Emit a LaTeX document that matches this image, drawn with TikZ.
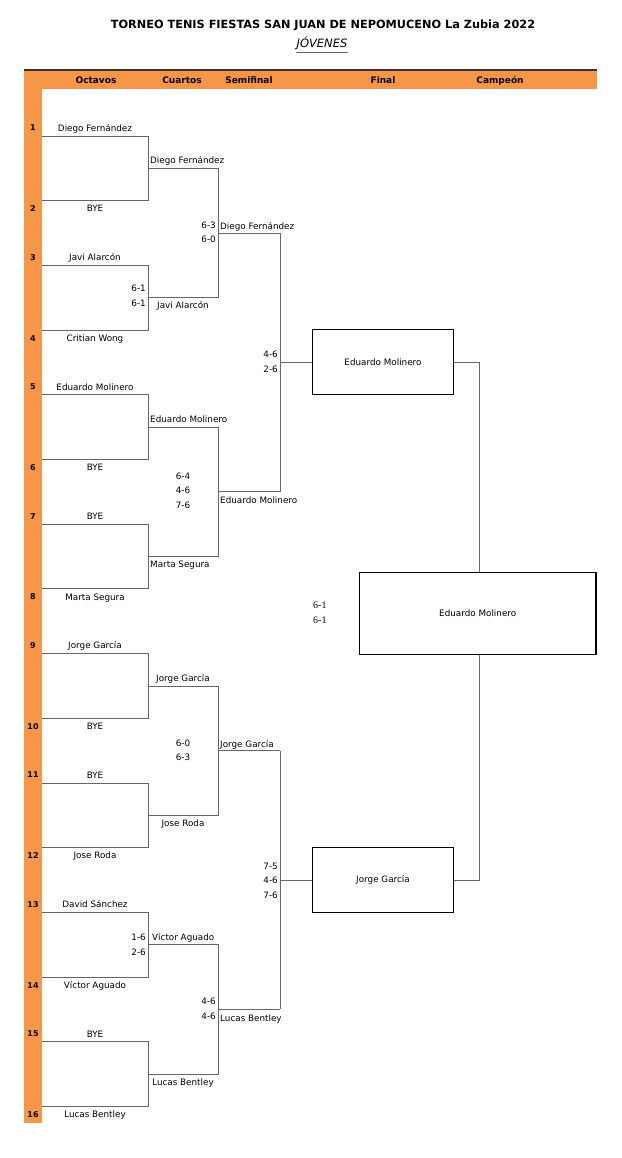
\documentclass[tikz,border=0pt]{standalone}
\usepackage{fontspec}
\setmainfont{DejaVu Sans}
\newfontfamily\scoreserif{Liberation Serif}
\definecolor{barorange}{HTML}{F79646}
\definecolor{brgray}{HTML}{666666}
\begin{document}
\begin{tikzpicture}[x=1pt,y=-1pt,
  lbl/.style={inner sep=0pt, text height=6.4pt, text depth=0pt, font=\fontsize{8.8}{10}\selectfont},
  numlbl/.style={inner sep=0pt, text height=5.8pt, text depth=0pt, font=\bfseries\fontsize{8}{10}\selectfont},
  hdr/.style={inner sep=0pt, text height=6.6pt, text depth=0pt, font=\bfseries\fontsize{9}{10}\selectfont},
  score/.style={inner sep=0pt, align=right, font=\fontsize{8.8}{14.5}\selectfont},
  scorec/.style={inner sep=0pt, align=center, font=\fontsize{8.8}{14.5}\selectfont},
  brk/.style={draw=brgray, line width=0.85pt},
  finalbox/.style={draw=black, line width=1.2pt, minimum width=140.6pt, minimum height=65pt, inner sep=0pt, font=\fontsize{8.8}{10}\selectfont},
  champbox/.style={draw=black, line width=1.2pt, minimum width=236.7pt, minimum height=82pt, inner sep=0pt, font=\fontsize{8.8}{10}\selectfont},
]
\useasboundingbox (0,0) rectangle (621,1158);
\fill[white] (0,0) rectangle (621,1158);

% title
\node[inner sep=0pt, font=\bfseries\fontsize{11.3}{13}\selectfont] (title) at (323,25) {TORNEO TENIS FIESTAS SAN JUAN DE NEPOMUCENO La Zubia 2022};
\node[inner sep=0pt, font=\itshape\fontsize{11.5}{13}\selectfont] (sub) at (322,43.5) {JÓVENES};
\draw[line width=0.9pt, draw=black!60] ([yshift=-2pt]sub.south west) -- ([yshift=-2pt]sub.south east);

% orange frame
\fill[barorange] (24,70) rectangle (596.7,89);
\fill[barorange] (24,89) rectangle (42,1122.7);
\draw[line width=1.4pt, draw=black!80] (24,70) -- (596.7,70);

\node[hdr] (h1) at (96,80) {Octavos};
\node[hdr] (h2) at (182,80) {Cuartos};
\node[hdr] (h3) at (249,80) {Semifinal};
\node[hdr] (h4) at (383,80) {Final};
\node[hdr] (h5) at (500,80) {Campeón};

% round 1 brackets
\foreach \m in {1,...,8} {
  \pgfmathsetmacro\ya{136+64.7*(2*\m-2)}
  \pgfmathsetmacro\yb{\ya+64.7}
  \coordinate (ra\m) at (42,\ya);
  \coordinate (rb\m) at (42,\yb);
  \draw[brk] (ra\m) -- (148,\ya) -- (148,\yb) -- (rb\m);
}
% round 2 brackets
\foreach \q in {1,...,4} {
  \pgfmathsetmacro\ya{168.35+258.8*(\q-1)}
  \pgfmathsetmacro\yb{\ya+129.4}
  \pgfmathsetmacro\ym{\ya+64.7}
  \coordinate (qa\q) at (148,\ya);
  \coordinate (qb\q) at (148,\yb);
  \draw[brk] (qa\q) -- (218,\ya) -- (218,\yb) -- (qb\q);
  \coordinate (sa\q) at (218,\ym);
  \coordinate (sb\q) at (280,\ym);
  \draw[brk] (sa\q) -- (sb\q);
}

% final boxes
\node[finalbox] (fin1) at (383,362.3) {Eduardo Molinero};
\node[finalbox] (fin2) at (383,880.3) {Jorge García};
\node[champbox] (champ) at (477.7,613.3) {Eduardo Molinero};

% semifinal verticals to final boxes
\coordinate (f1) at (280,362.3);
\coordinate (f2) at (280,880.3);
\draw[brk] (sb1) -- (sb2);
\draw[brk] (sb3) -- (sb4);
\draw[brk] (f1) -- (fin1.west);
\draw[brk] (f2) -- (fin2.west);

% finals to champion
\coordinate (cj1) at (479,362.3);
\coordinate (cj2) at (479,880.3);
\draw[brk] (fin1.east) -- (cj1) -- (cj1 |- champ.north);
\draw[brk] (fin2.east) -- (cj2) -- (cj2 |- champ.south);

% round 1 names and numbers
\foreach \k/\nm in {1/Diego Fernández, 2/BYE, 3/Javi Alarcón, 4/Critian Wong,
  5/Eduardo Molinero, 6/BYE, 7/BYE, 8/Marta Segura, 9/Jorge García, 10/BYE,
  11/BYE, 12/Jose Roda, 13/David Sánchez, 14/Víctor Aguado, 15/BYE, 16/Lucas Bentley} {
  \pgfmathsetmacro\yl{136+64.7*(\k-1)+ifthenelse(mod(\k,2)==1,-8,8)}
  \node[lbl] (p\k) at (95,\yl) {\nm};
  \node[numlbl] (num\k) at (33,\yl) {\k};
}

% round 2 names
\node[lbl, anchor=west] (c1) at (150,160.6) {Diego Fernández};
\node[lbl] (c2) at (183,305.5) {Javi Alarcón};
\node[lbl, anchor=west] (c3) at (150,419.4) {Eduardo Molinero};
\node[lbl, anchor=west] (c4) at (150,564) {Marta Segura};
\node[lbl] (c5) at (183,678.5) {Jorge García};
\node[lbl] (c6) at (183,823) {Jose Roda};
\node[lbl, anchor=west] (c7) at (152,937.5) {Víctor Aguado};
\node[lbl] (c8) at (183,1082) {Lucas Bentley};

% semifinal names
\node[lbl, anchor=west] (s1) at (220,226) {Diego Fernández};
\node[lbl, anchor=west] (s2) at (220,500) {Eduardo Molinero};
\node[lbl, anchor=west] (s3) at (220,744) {Jorge García};
\node[lbl, anchor=west] (s4) at (220,1018) {Lucas Bentley};

% scores
\node[score, anchor=east] (sc1) at (146,296) {6-1\\6-1};
\node[score, anchor=east] (sc2) at (216,232.5) {6-3\\6-0};
\node[score, anchor=east] (sc3) at (278,362) {4-6\\2-6};
\node[scorec] (sc4) at (183,490.5) {6-4\\4-6\\7-6};
\node[score, anchor=east, font=\scoreserif\fontsize{10}{15.5}\selectfont] (sc5) at (326.7,612.8) {6-1\\6-1};
\node[scorec] (sc6) at (183,750.3) {6-0\\6-3};
\node[score, anchor=east] (sc7) at (278,880.5) {7-5\\4-6\\7-6};
\node[score, anchor=east] (sc8) at (146,945) {1-6\\2-6};
\node[score, anchor=east] (sc9) at (216,1009) {4-6\\4-6};
\end{tikzpicture}
\end{document}
